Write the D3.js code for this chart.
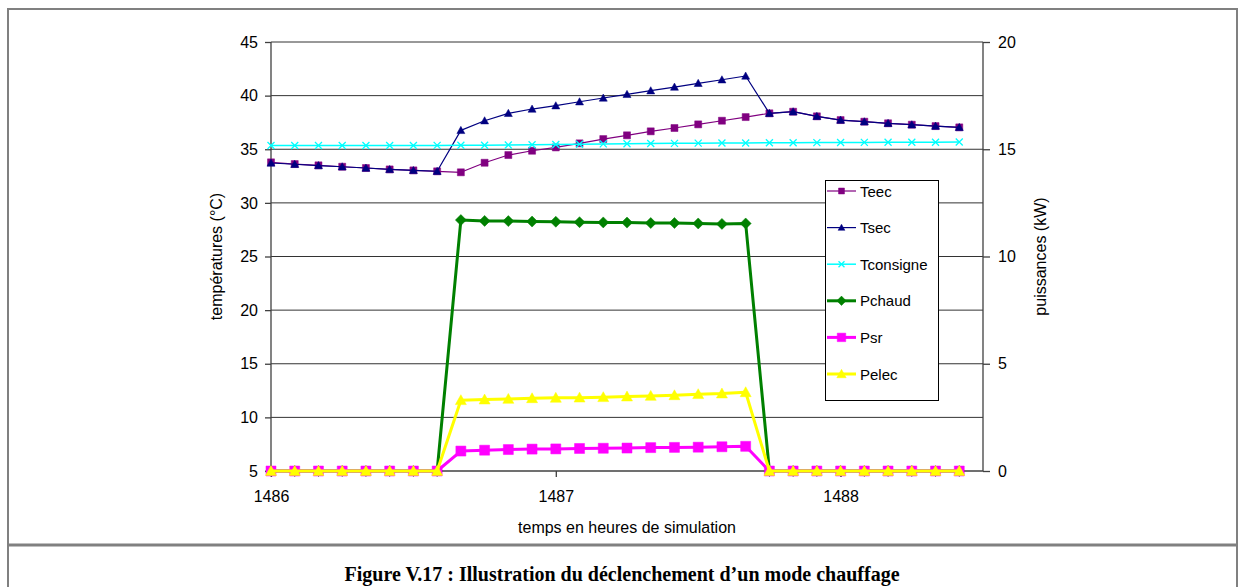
<!DOCTYPE html>
<html>
<head>
<meta charset="utf-8">
<script src="https://cdn.jsdelivr.net/npm/d3@7"></script>
<style>
  body { margin: 0; background: #fff; }
  text { font-family: "Liberation Sans", Arial, sans-serif; fill: #000; }
</style>
</head>
<body>
<div id="chart"></div>
<script>
// time steps, minutes after hour 1486
const minutes = [0, 5, 10, 15, 20, 25, 30, 35, 40, 45, 50, 55, 60, 65, 70, 75, 80, 85, 90, 95,
                 100, 105, 110, 115, 120, 125, 130, 135, 140, 145];

// temperatures (°C), left axis
const teec = [33.78, 33.62, 33.5, 33.37, 33.25, 33.12, 33.03, 32.94, 32.85, 33.74,
              34.46, 34.86, 35.17, 35.55, 35.95, 36.3, 36.67, 36.98, 37.32, 37.66,
              38.0, 38.35, 38.5, 38.07, 37.72, 37.57, 37.42, 37.29, 37.16, 37.04];
const tsec = [33.72, 33.6, 33.48, 33.37, 33.25, 33.12, 33.03, 32.95, 36.76, 37.66,
              38.35, 38.75, 39.06, 39.43, 39.78, 40.12, 40.46, 40.8, 41.15, 41.48,
              41.83, 38.35, 38.5, 38.07, 37.72, 37.57, 37.42, 37.29, 37.16, 37.04];
const tconsigne = [35.35, 35.35, 35.35, 35.35, 35.35, 35.35, 35.35, 35.36, 35.37, 35.38,
                   35.4, 35.42, 35.44, 35.47, 35.5, 35.52, 35.54, 35.55, 35.57, 35.58,
                   35.59, 35.6, 35.61, 35.62, 35.63, 35.64, 35.65, 35.66, 35.66, 35.67];

// powers (kW), right axis
const pchaud = [0, 0, 0, 0, 0, 0, 0, 0, 11.7, 11.66,
                11.65, 11.63, 11.62, 11.6, 11.59, 11.58, 11.56, 11.56, 11.54, 11.52,
                11.54, 0, 0, 0, 0, 0, 0, 0, 0, 0];
const psr = [0, 0, 0, 0, 0, 0, 0, 0, 0.93, 0.97,
             1.0, 1.02, 1.03, 1.05, 1.06, 1.07, 1.09, 1.1, 1.11, 1.13,
             1.15, 0, 0, 0, 0, 0, 0, 0, 0, 0];
const pelec = [0, 0, 0, 0, 0, 0, 0, 0, 3.3, 3.33,
               3.36, 3.39, 3.41, 3.42, 3.44, 3.47, 3.5, 3.53, 3.58, 3.61,
               3.67, 0, 0, 0, 0, 0, 0, 0, 0, 0];

const xTicks = [0, 60, 120];
const xTickLabels = ["1486", "1487", "1488"];
const leftTicks = [5, 10, 15, 20, 25, 30, 35, 40, 45];
const rightTicks = [0, 5, 10, 15, 20];

const width = 1245, height = 587;
const plot = { left: 271, right: 983, top: 42, bottom: 471 };

const svg = d3.select("#chart").append("svg")
    .attr("width", width)
    .attr("height", height);

// outer frame + caption box
svg.append("rect")
    .attr("x", 8).attr("y", 9)
    .attr("width", 1229).attr("height", 600)
    .attr("fill", "none")
    .attr("stroke", "#808080")
    .attr("stroke-width", 2);
svg.append("line")
    .attr("x1", 8).attr("x2", 1237)
    .attr("y1", 545).attr("y2", 545)
    .attr("stroke", "#808080")
    .attr("stroke-width", 3);

// scales
const x = d3.scaleLinear().domain([0, 150]).range([plot.left, plot.right]);
const yT = d3.scaleLinear().domain([5, 45]).range([plot.bottom, plot.top]);
const yP = d3.scaleLinear().domain([0, 20]).range([plot.bottom, plot.top]);

// gridlines
svg.append("g")
    .selectAll("line")
    .data(leftTicks.slice(1))
    .enter().append("line")
    .attr("x1", plot.left).attr("x2", plot.right)
    .attr("y1", d => yT(d)).attr("y2", d => yT(d))
    .attr("stroke", "#333")
    .attr("stroke-width", 1);

// axes
const axisColor = "#404040";
const leftAxis = svg.append("g")
    .attr("transform", `translate(${plot.left},0)`)
    .call(d3.axisLeft(yT).tickValues(leftTicks).tickSize(6).tickPadding(7));
const rightAxis = svg.append("g")
    .attr("transform", `translate(${plot.right},0)`)
    .call(d3.axisRight(yP).tickValues(rightTicks).tickSize(7).tickPadding(8));
const bottomAxis = svg.append("g")
    .attr("transform", `translate(0,${plot.bottom})`)
    .call(d3.axisBottom(x).tickValues(xTicks)
        .tickFormat((d, i) => xTickLabels[i]).tickSize(6).tickPadding(14));

[leftAxis, rightAxis, bottomAxis].forEach(a => {
    a.select(".domain").attr("stroke", axisColor).attr("stroke-width", 1.3);
    a.selectAll(".tick line").attr("stroke", axisColor).attr("stroke-width", 1.3);
    a.selectAll(".tick text")
        .attr("font-size", 16)
        .attr("font-family", "Liberation Sans, Arial, sans-serif")
        .attr("fill", "#000");
});
leftAxis.select(".domain").attr("d", `M0,${plot.top}V${plot.bottom}`);
rightAxis.select(".domain").attr("d", `M0,${plot.top}V${plot.bottom}`);
bottomAxis.select(".domain").attr("d", `M${plot.left},0H${plot.right}`);

// axis titles
svg.append("text")
    .attr("transform", `translate(222,${(plot.top + plot.bottom) / 2}) rotate(-90)`)
    .attr("text-anchor", "middle")
    .attr("font-size", 16)
    .text("températures (°C)");
svg.append("text")
    .attr("transform", `translate(1046,${(plot.top + plot.bottom) / 2}) rotate(-90)`)
    .attr("text-anchor", "middle")
    .attr("font-size", 16)
    .text("puissances (kW)");
svg.append("text")
    .attr("x", (plot.left + plot.right) / 2)
    .attr("y", 533)
    .attr("text-anchor", "middle")
    .attr("font-size", 16)
    .text("temps en heures de simulation");

// caption
svg.append("text")
    .attr("x", 622)
    .attr("y", 581)
    .attr("text-anchor", "middle")
    .attr("font-size", 20)
    .attr("font-weight", "bold")
    .style("font-family", "'Liberation Serif', 'Times New Roman', serif")
    .text("Figure V.17 : Illustration du déclenchement d’un mode chauffage");

// marker shapes
const markers = {
    square: s => `M${-s},${-s}H${s}V${s}H${-s}Z`,
    triangle: s => `M0,${-s}L${s},${s * 0.8}H${-s}Z`,
    diamond: s => `M0,${-s}L${s},0L0,${s}L${-s},0Z`,
    cross: s => `M${-s},${-s}L${s},${s}M${-s},${s}L${s},${-s}`
};

const series = [
    { name: "Teec", values: teec, y: yT, color: "#800080", width: 1.2, marker: "square", size: 3.5 },
    { name: "Tsec", values: tsec, y: yT, color: "#000080", width: 1.2, marker: "triangle", size: 4 },
    { name: "Tconsigne", values: tconsigne, y: yT, color: "#00FFFF", width: 1.5, marker: "cross", size: 3.5 },
    { name: "Pchaud", values: pchaud, y: yP, color: "#008000", width: 3, marker: "diamond", size: 5.5 },
    { name: "Psr", values: psr, y: yP, color: "#FF00FF", width: 3, marker: "square", size: 5 },
    { name: "Pelec", values: pelec, y: yP, color: "#FFFF00", width: 3, marker: "triangle", size: 5.5 }
];

series.forEach(s => {
    const pts = s.values.map((v, i) => [x(minutes[i]), s.y(v)]);
    const g = svg.append("g");
    g.append("path")
        .attr("d", d3.line()(pts))
        .attr("fill", "none")
        .attr("stroke", s.color)
        .attr("stroke-width", s.width)
        .attr("stroke-linejoin", "round");
    g.selectAll("path.m")
        .data(pts)
        .enter().append("path")
        .attr("class", "m")
        .attr("transform", d => `translate(${d[0]},${d[1]})`)
        .attr("d", markers[s.marker](s.size))
        .attr("fill", s.marker === "cross" ? "none" : s.color)
        .attr("stroke", s.color)
        .attr("stroke-width", s.marker === "cross" ? 1.3 : 0.5);
});

// legend
const legend = svg.append("g");
legend.append("rect")
    .attr("x", 825.5).attr("y", 180.5)
    .attr("width", 113).attr("height", 220)
    .attr("fill", "#fff")
    .attr("stroke", "#000")
    .attr("stroke-width", 1);
series.forEach((s, i) => {
    const ly = 191 + i * 36.6;
    legend.append("line")
        .attr("x1", 827).attr("x2", 856)
        .attr("y1", ly).attr("y2", ly)
        .attr("stroke", s.color)
        .attr("stroke-width", s.width);
    legend.append("path")
        .attr("transform", `translate(841.5,${ly})`)
        .attr("d", markers[s.marker](s.size * 0.85))
        .attr("fill", s.marker === "cross" ? "none" : s.color)
        .attr("stroke", s.color)
        .attr("stroke-width", s.marker === "cross" ? 1.3 : 0.5);
    legend.append("text")
        .attr("x", 860)
        .attr("y", ly + 5.5)
        .attr("font-size", 15)
        .text(s.name);
});
</script>
</body>
</html>
